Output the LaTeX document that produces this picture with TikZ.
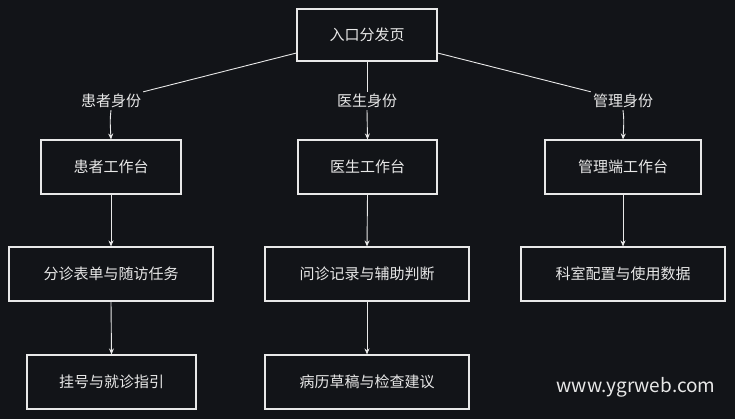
\documentclass[tikz,border=0pt]{standalone}
\usepackage{fontspec}
\setmainfont{Noto Sans CJK SC}
\usetikzlibrary{arrows.meta}
\definecolor{bg}{HTML}{121418}
\definecolor{fg}{HTML}{E8E8E8}
\begin{document}
\begin{tikzpicture}[x=1pt,y=-1pt,
  box/.style={draw=fg,line width=1.1pt,text=fg,font=\fontsize{15}{17}\selectfont,inner sep=0pt,anchor=center},
  lab/.style={text=fg,font=\fontsize{15}{17}\selectfont,inner sep=2pt},
  con/.style={draw=fg,line width=0.9pt},
  arr/.style={con,-{Stealth[length=6pt,width=5pt]}}]
\fill[bg] (0,0) rectangle (735,419);
\useasboundingbox (0,0) rectangle (735,419);
\node[box,minimum width=140,minimum height=52] (e) at (367,35) {入口分发页};
\node[box,minimum width=140,minimum height=54] (p) at (111,167) {患者工作台};
\node[box,minimum width=139,minimum height=54] (d) at (367.5,167) {医生工作台};
\node[box,minimum width=156,minimum height=54] (m) at (623,167) {管理端工作台};
\node[box,minimum width=204,minimum height=54] (p2) at (111,274) {分诊表单与随访任务};
\node[box,minimum width=204,minimum height=54] (d2) at (367,274) {问诊记录与辅助判断};
\node[box,minimum width=204,minimum height=54] (m2) at (623,274) {科室配置与使用数据};
\node[box,minimum width=169,minimum height=54] (p3) at (111.5,382) {挂号与就诊指引};
\node[box,minimum width=204,minimum height=54] (d3) at (367,382) {病历草稿与检查建议};
\node[lab] (lp) at (111,101) {患者身份};
\node[lab] (ld) at (367,101) {医生身份};
\node[lab] (lm) at (623,101) {管理身份};
\draw[con] (e.west|-0,53) -- (lp.north east);
\draw[con] (e.south) -- (ld.north);
\draw[con] (e.east|-0,53) -- (lm.north west);
\draw[arr] (lp.south) .. controls (110,120) .. (p.north);
\draw[arr] (ld.south) -- (d.north);
\draw[arr] (lm.south) .. controls (624,120) .. (m.north);
\draw[arr] (p.south) -- (p2.north);
\draw[arr] (d.south) -- (d2.north);
\draw[arr] (m.south) -- (m2.north);
\draw[arr] (p2.south) -- (p3.north);
\draw[arr] (d2.south) -- (d3.north);
\node[text=fg,font=\fontsize{19}{22}\selectfont] (w) at (636,387) {www.ygrweb.com};
\end{tikzpicture}
\end{document}
